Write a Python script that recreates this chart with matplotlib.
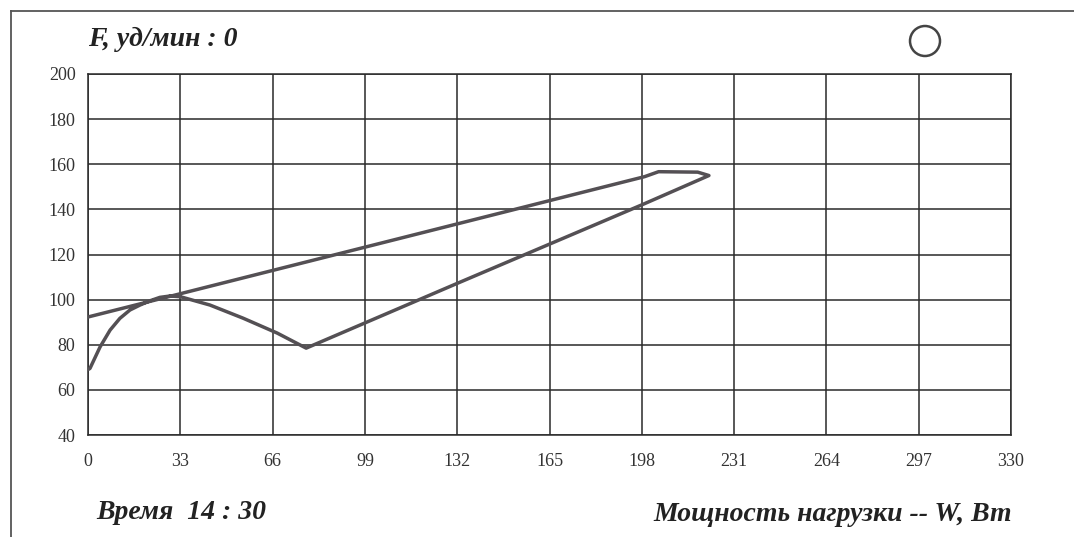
import matplotlib
matplotlib.use("Agg")
import matplotlib.pyplot as plt
from matplotlib.patches import Ellipse
from matplotlib.lines import Line2D

# Load power (W) and heart rate (beats/min) along the recorded loop
load_w = [0, 0.7, 4.3, 7.9, 11.4, 15, 18.6, 22.2, 25.7, 29.3, 33,
          43.6, 55.4, 67.6, 78, 132, 198, 222, 218, 204, 199, 0]
heart_rate = [69, 69.5, 79, 86.5, 91.7, 95.4, 97.6, 99.5, 101, 101.6, 101.3,
              97.6, 91.8, 85.2, 78.5, 107.2, 142, 155, 156.5, 156.7, 154.5, 92.3]

x_ticks = [0, 33, 66, 99, 132, 165, 198, 231, 264, 297, 330]
y_ticks = [40, 60, 80, 100, 120, 140, 160, 180, 200]

title_text = "F, уд/мин : 0"
time_text = "Время  14 : 30"
xlabel_text = "Мощность нагрузки -- W, Вт"

W, H = 1074, 537
fig = plt.figure(figsize=(W / 100, H / 100), dpi=100)
fig.patch.set_facecolor("white")

serif = ["Liberation Serif", "DejaVu Serif"]

ax = fig.add_axes([88 / W, (H - 435) / H, 923 / W, 361 / H])
ax.set_xlim(0, 330)
ax.set_ylim(40, 200)
ax.set_xticks(x_ticks)
ax.set_yticks(y_ticks)
ax.set_xticklabels([str(v) for v in x_ticks], family=serif, fontsize=13, color="#333333")
ax.set_yticklabels([str(v) for v in y_ticks], family=serif, fontsize=13, color="#333333")
ax.tick_params(length=0)
ax.tick_params(axis="x", pad=13)
ax.tick_params(axis="y", pad=9)
ax.grid(True, color="#2a2a2a", linewidth=1.1)
for sp in ax.spines.values():
    sp.set_color("#2a2a2a")
    sp.set_linewidth(1.1)
ax.set_axisbelow(True)

ax.plot(load_w, heart_rate, color="#545054", linewidth=2.5,
        solid_joinstyle="round", solid_capstyle="round", zorder=3)

# Outer frame (top and left edges)
fig.add_artist(Line2D([11 / W, 1.0], [1 - 11 / H, 1 - 11 / H],
                      transform=fig.transFigure, color="#555555", linewidth=1.3))
fig.add_artist(Line2D([11 / W, 11 / W], [0.0, 1 - 11 / H],
                      transform=fig.transFigure, color="#555555", linewidth=1.3))

# Indicator circle
fig.add_artist(Ellipse((925 / W, 1 - 41 / H), 30 / W, 30 / H,
                       transform=fig.transFigure, fill=False,
                       edgecolor="#444444", linewidth=1.8))

fig.text(88 / W, 1 - 46 / H, title_text, family=serif, fontsize=20,
         fontweight="bold", fontstyle="italic", color="#222222", va="baseline")
fig.text(96 / W, 1 - 519 / H, time_text, family=serif, fontsize=20,
         fontweight="bold", fontstyle="italic", color="#222222", va="baseline")
fig.text(1012 / W, 1 - 521 / H, xlabel_text, family=serif, fontsize=20,
         fontweight="bold", fontstyle="italic", color="#222222", va="baseline", ha="right")

fig.savefig("out.png", dpi=100)
